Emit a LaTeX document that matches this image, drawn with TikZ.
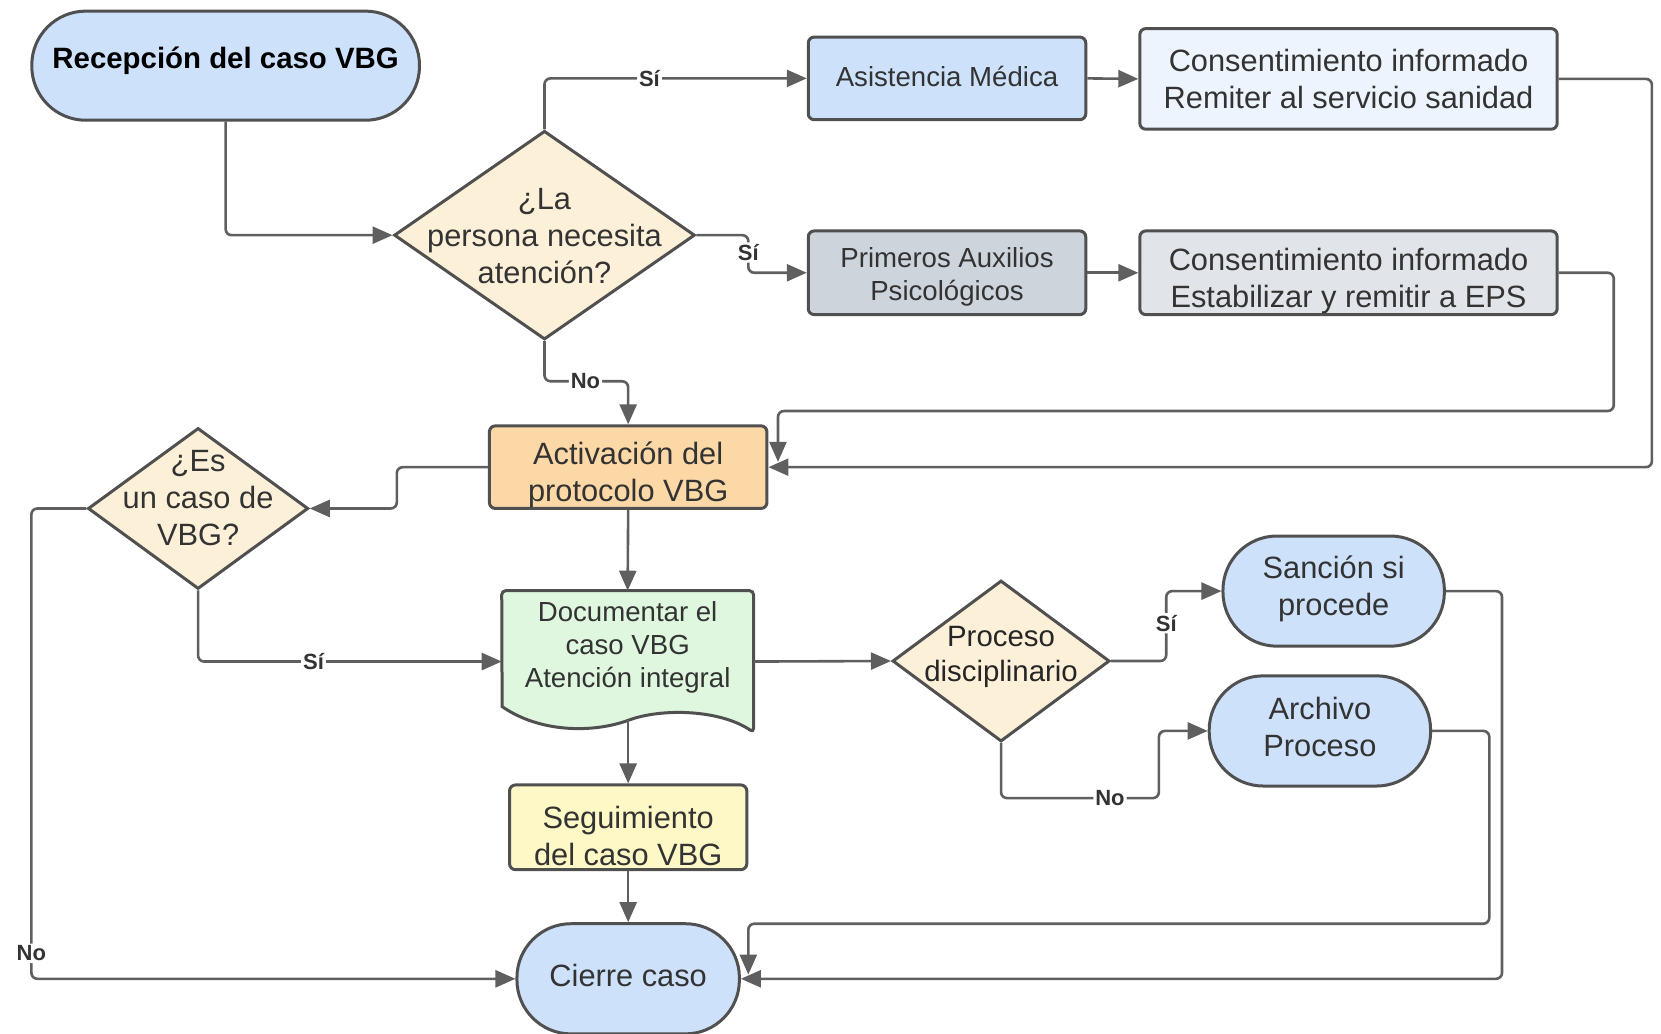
\documentclass[tikz,border=0pt]{standalone}
\usepackage{fontspec}
\setmainfont{Liberation Sans}
\usetikzlibrary{arrows.meta,calc,shapes.geometric}
\definecolor{bordercol}{HTML}{505050}
\definecolor{linecol}{HTML}{5F5F5F}
\definecolor{textcol}{HTML}{333333}
\definecolor{blueA}{HTML}{CDE1FB}
\definecolor{blueB}{HTML}{EDF4FD}
\definecolor{grayA}{HTML}{CED4DC}
\definecolor{grayB}{HTML}{E1E4E8}
\definecolor{cream}{HTML}{FDF0D9}
\definecolor{orangeA}{HTML}{FCD8A6}
\definecolor{greenA}{HTML}{DEF7DE}
\definecolor{yellowA}{HTML}{FDF8C6}
\newcommand{\pxu}{0.52967pt}
\tikzset{
  base/.style={draw=bordercol, line width=1.5pt, inner sep=0pt},
  boxs/.style={base, rectangle, rounded corners=3pt},
  pill/.style={base, rectangle, rounded corners=27pt},
  dia/.style={base, diamond},
  txt/.style={inner sep=0pt, align=center, text=textcol},
  big/.style={font=\fontsize{15.4}{18.5}\selectfont},
  small/.style={font=\fontsize{13.8}{16.5}\selectfont},
  conn/.style={draw=linecol, line width=1.3pt, rounded corners=3pt,
    -{Triangle[length=10pt,width=8.5pt]}},
  lbl/.style={fill=white, inner sep=1pt, text=textcol,
    font=\fontsize{11}{13}\bfseries\selectfont},
}
\begin{document}
\begin{tikzpicture}[x=0.52967pt,y=-0.52967pt]
\useasboundingbox (0,0) rectangle (1568,976);

% ---------- shapes ----------
\node[pill, fill=blueA, minimum width=366*\pxu, minimum height=103*\pxu] (rec) at (213,62) {};
\node[txt, text=black, font=\fontsize{14.7}{17}\bfseries\selectfont] (rec-t) at ($(rec)+(0,-5)$) {Recepción del caso VBG};

\node[dia, fill=cream, minimum width=284*\pxu, minimum height=197*\pxu] (d1) at (514,222) {};
\node[txt, big] (d1-t) at ($(d1)+(0,1)$) {¿La\\persona necesita\\atención?};

\node[boxs, fill=blueA, minimum width=262*\pxu, minimum height=78*\pxu] (asis) at (894,74) {};
\node[txt, small] (asis-t) at ($(asis)+(0,-2)$) {Asistencia Médica};

\node[boxs, fill=blueB, minimum width=394*\pxu, minimum height=95*\pxu] (con1) at (1273,74.5) {};
\node[txt, big] (con1-t) at ($(con1)+(0,0)$) {Consentimiento informado\\Remiter al servicio sanidad};

\node[boxs, fill=grayA, minimum width=262*\pxu, minimum height=79*\pxu] (prim) at (894,257.5) {};
\node[txt, small] (prim-t) at ($(prim)+(0,4)$) {Primeros Auxilios\\Psicológicos};

\node[boxs, fill=grayB, minimum width=394*\pxu, minimum height=79*\pxu] (con2) at (1273,257.5) {};
\node[txt, big] (con2-t) at ($(con2)+(0,7.5)$) {Consentimiento informado\\Estabilizar y remitir a EPS};

\node[boxs, fill=orangeA, minimum width=262*\pxu, minimum height=78*\pxu] (act) at (593,441) {};
\node[txt, big] (act-t) at ($(act)+(0,7)$) {Activación del\\protocolo VBG};

\node[dia, fill=cream, minimum width=208*\pxu, minimum height=152*\pxu] (d2) at (187,480) {};
\node[txt, big] (d2-t) at ($(d2)+(0,-10)$) {¿Es\\un caso de\\VBG?};

% document shape
\node[inner sep=0pt, minimum width=237*\pxu, minimum height=133*\pxu] (doc) at (592.5,624.5) {};
\coordinate (docb) at (593,680);
\draw[draw=bordercol, line width=1.5pt, fill=greenA, rounded corners=2pt]
  (doc.north west) -- (doc.north east) -- (doc.south east)
  [sharp corners] .. controls (680,670) and (625,668) .. (docb)
  .. controls (560,692) and (510,692) .. (474,667) [rounded corners=2pt] -- cycle;
\node[txt, small] (doc-t) at ($(doc)+(0,-13)$) {Documentar el\\caso VBG\\Atención integral};

\node[dia, fill=cream, minimum width=205*\pxu, minimum height=152*\pxu] (proc) at (945,624) {};
\node[txt, text=black!85, font=\fontsize{14.7}{17.5}\selectfont] (proc-t) at ($(proc)+(0,-4)$) {Proceso\\disciplinario};

\node[pill, fill=blueA, minimum width=209*\pxu, minimum height=104*\pxu] (sanc) at (1259,558) {};
\node[txt, big] (sanc-t) at ($(sanc)+(0,-2.5)$) {Sanción si\\procede};

\node[pill, fill=blueA, minimum width=209*\pxu, minimum height=104*\pxu] (arch) at (1246,690) {};
\node[txt, big] (arch-t) at ($(arch)+(0,-4)$) {Archivo\\Proceso};

\node[boxs, fill=yellowA, minimum width=224*\pxu, minimum height=80*\pxu] (seg) at (593,781) {};
\node[txt, big] (seg-t) at ($(seg)+(0,8)$) {Seguimiento\\del caso VBG};

\node[pill, fill=blueA, minimum width=210*\pxu, minimum height=104*\pxu] (cier) at (593,924) {};
\node[txt, big] (cier-t) at ($(cier)+(0,-3)$) {Cierre caso};

\coordinate (actin) at ($(act.east)+(9,-5)$);
\coordinate (cierin) at ($(cier.east)+(7,-4)$);

% ---------- connectors ----------
\draw[conn] (rec.south) |- (d1.west);
\draw[conn] (d1.north) |- node[lbl, pos=0.70] {Sí} (asis.west);
\draw[conn] (d1.east) -- ++(49,0) |- node[lbl, pos=0.23] {Sí} (prim.west);
\draw[conn] (d1.south) -- ++(0,38) -| node[lbl, pos=0.245] {No} (act.north);
\draw[conn] (asis.east) -- (con1.west);
\draw[conn] (prim.east) -- (con2.west);
\draw[conn] (con1.east) -- ++(88,0) |- (act.east);
\draw[conn] (con2.east) -- ++(52,0) -- ++(0,130.5) -| (actin);
\draw[conn] (act.west) -- ++(-86,0) |- (d2.east);
\draw[conn] (act.south) -- (doc.north);
\draw[conn] (d2.south) |- node[lbl, pos=0.69] {Sí} (doc.west);
\draw[conn] (d2.west) -- ++(-52,0) |- node[lbl, pos=0.473] {No} (cier.west);
\draw[conn] (doc.east) -- (proc.west);
\draw[conn] (docb) -- (seg.north);
\draw[conn] (seg.south) -- (cier.north);
\draw[conn] (proc.east) -- ++(52,0) |- node[lbl, pos=0.27] {Sí} (sanc.west);
\draw[conn] (proc.south) -- ++(0,52) -- node[lbl, pos=0.69] {No} ++(149,0) |- (arch.west);
\draw[conn] (sanc.east) -- ++(53,0) |- (cier.east);
\draw[conn] (arch.east) -- ++(54,0) -- ++(0,182) -| (cierin);
\end{tikzpicture}
\end{document}
